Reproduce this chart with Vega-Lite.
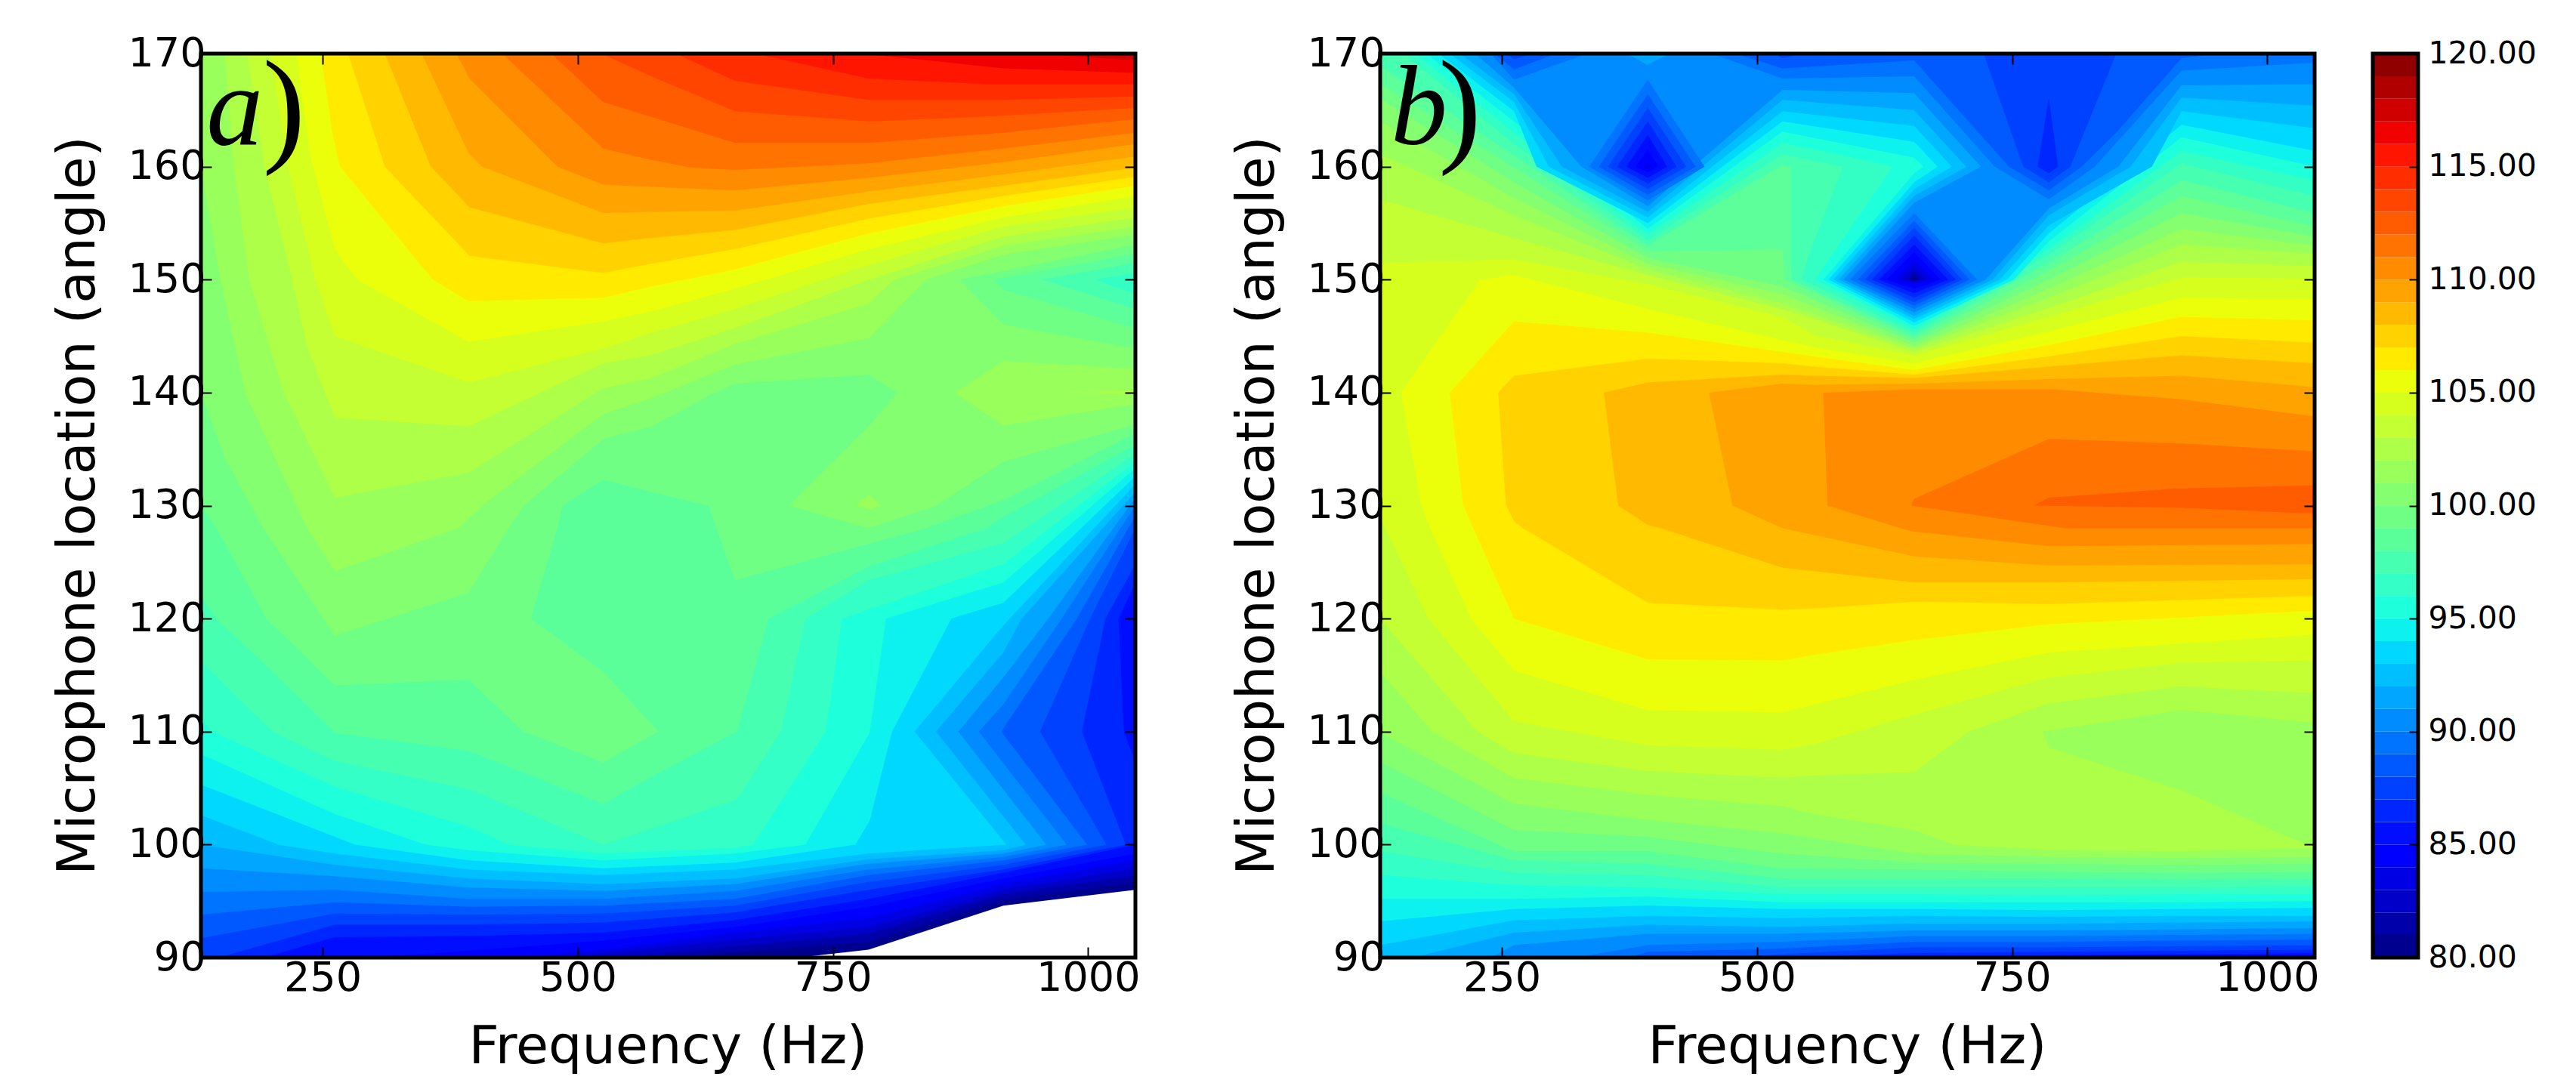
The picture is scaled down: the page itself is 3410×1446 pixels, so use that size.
{"$schema":"https://vega.github.io/schema/vega-lite/v6.json","autosize":{"type":"pad"},"padding":{"left":68,"top":44,"right":5,"bottom":5},"background":"white","bounds":"flush","spacing":77,"config":{"view":{"stroke":null},"axis":{"grid":false,"domain":false,"labelFont":"DejaVu Sans","titleFont":"DejaVu Sans","labelColor":"black","titleColor":"black","tickColor":"black","titleFontWeight":"normal","labelFlush":false,"labelOverlap":false}},
"datasets":{"pa":[
{"v":100.5,"f":130.8,"a":90},{"v":100.5,"f":1046.4,"a":90},{"v":100.5,"f":1046.4,"a":170},{"v":100.5,"f":130.8,"a":170},
{"v":99.5,"f":130.8,"a":140},{"v":99.5,"f":154,"a":134.2},{"v":99.5,"f":192,"a":128},{"v":99.5,"f":262,"a":118.5},{"v":99.5,"f":393,"a":122.3},{"v":99.5,"f":432,"a":128},{"v":99.5,"f":447,"a":130},{"v":99.5,"f":525,"a":135.9},{"v":99.5,"f":572,"a":137},{"v":99.5,"f":634,"a":140},{"v":99.5,"f":654,"a":140.8},{"v":99.5,"f":785,"a":141.6},{"v":99.5,"f":813,"a":140},{"v":99.5,"f":785,"a":137},{"v":99.5,"f":707,"a":130},{"v":99.5,"f":785,"a":128},{"v":99.5,"f":851,"a":130},{"v":99.5,"f":917,"a":133.9},{"v":99.5,"f":1046.4,"a":137.2},{"v":99.5,"f":1046.4,"a":90},{"v":99.5,"f":130.8,"a":90},
{"v":98.5,"f":130.8,"a":130},{"v":98.5,"f":146,"a":128},{"v":98.5,"f":195,"a":120},{"v":98.5,"f":262,"a":114.1},{"v":98.5,"f":393,"a":114.6},{"v":98.5,"f":447,"a":110},{"v":98.5,"f":525,"a":107.3},{"v":98.5,"f":579,"a":110},{"v":98.5,"f":525,"a":115.3},{"v":98.5,"f":454,"a":120},{"v":98.5,"f":480,"a":128},{"v":98.5,"f":485,"a":130},{"v":98.5,"f":525,"a":132.3},{"v":98.5,"f":572,"a":131.2},{"v":98.5,"f":628,"a":130},{"v":98.5,"f":636,"a":128},{"v":98.5,"f":654,"a":123.4},{"v":98.5,"f":841,"a":128},{"v":98.5,"f":917,"a":130.5},{"v":98.5,"f":1046.4,"a":136.4},{"v":98.5,"f":1046.4,"a":90},{"v":98.5,"f":130.8,"a":90},
{"v":97.5,"f":130.8,"a":122},{"v":97.5,"f":146,"a":120},{"v":97.5,"f":201,"a":115.3},{"v":97.5,"f":262,"a":109.9},{"v":97.5,"f":393,"a":108.3},{"v":97.5,"f":525,"a":103.6},{"v":97.5,"f":572,"a":106},{"v":97.5,"f":656,"a":110},{"v":97.5,"f":687,"a":120},{"v":97.5,"f":785,"a":124.6},{"v":97.5,"f":900,"a":128},{"v":97.5,"f":917,"a":129},{"v":97.5,"f":1046.4,"a":135.4},{"v":97.5,"f":1046.4,"a":90},{"v":97.5,"f":130.8,"a":90},
{"v":96.5,"f":130.8,"a":116.2},{"v":96.5,"f":201,"a":110},{"v":96.5,"f":262,"a":107.4},{"v":96.5,"f":393,"a":104.9},{"v":96.5,"f":525,"a":100},{"v":96.5,"f":572,"a":101.4},{"v":96.5,"f":656,"a":104},{"v":96.5,"f":699,"a":110},{"v":96.5,"f":723,"a":120},{"v":96.5,"f":785,"a":123.4},{"v":96.5,"f":917,"a":126.7},{"v":96.5,"f":1046.4,"a":134.6},{"v":96.5,"f":1046.4,"a":90},{"v":96.5,"f":130.8,"a":90},
{"v":95.5,"f":130.8,"a":111},{"v":95.5,"f":142,"a":110},{"v":95.5,"f":262,"a":105.1},{"v":95.5,"f":393,"a":101.6},{"v":95.5,"f":432,"a":100},{"v":95.5,"f":525,"a":99.2},{"v":95.5,"f":654,"a":99.7},{"v":95.5,"f":672,"a":100},{"v":95.5,"f":743,"a":110},{"v":95.5,"f":759,"a":120},{"v":95.5,"f":917,"a":124.8},{"v":95.5,"f":1046.4,"a":133.9},{"v":95.5,"f":1046.4,"a":90},{"v":95.5,"f":130.8,"a":90},
{"v":94.5,"f":130.8,"a":108},{"v":94.5,"f":262,"a":102.7},{"v":94.5,"f":351,"a":100},{"v":94.5,"f":393,"a":99.5},{"v":94.5,"f":525,"a":98.6},{"v":94.5,"f":654,"a":99.2},{"v":94.5,"f":723,"a":100},{"v":94.5,"f":786,"a":109.9},{"v":94.5,"f":802,"a":120},{"v":94.5,"f":917,"a":123.2},{"v":94.5,"f":1046.4,"a":133.3},{"v":94.5,"f":1046.4,"a":90},{"v":94.5,"f":130.8,"a":90},
{"v":93.5,"f":130.8,"a":105.3},{"v":93.5,"f":262,"a":100.7},{"v":93.5,"f":282,"a":100},{"v":93.5,"f":393,"a":98.6},{"v":93.5,"f":525,"a":97.9},{"v":93.5,"f":654,"a":98.4},{"v":93.5,"f":772,"a":100},{"v":93.5,"f":786,"a":102.1},{"v":93.5,"f":808,"a":110},{"v":93.5,"f":866,"a":120},{"v":93.5,"f":917,"a":121.4},{"v":93.5,"f":1046.4,"a":132.6},{"v":93.5,"f":1046.4,"a":90},{"v":93.5,"f":130.8,"a":90},
{"v":92.5,"f":130.8,"a":102.6},{"v":92.5,"f":207,"a":100},{"v":92.5,"f":262,"a":99.2},{"v":92.5,"f":393,"a":97.8},{"v":92.5,"f":525,"a":97.3},{"v":92.5,"f":654,"a":97.8},{"v":92.5,"f":785,"a":99.2},{"v":92.5,"f":920,"a":100},{"v":92.5,"f":830,"a":110},{"v":92.5,"f":917,"a":119.4},{"v":92.5,"f":1046.4,"a":131.9},{"v":92.5,"f":1046.4,"a":90},{"v":92.5,"f":130.8,"a":90},
{"v":91.5,"f":130.8,"a":100},{"v":91.5,"f":262,"a":98.2},{"v":91.5,"f":393,"a":97},{"v":91.5,"f":525,"a":96.5},{"v":91.5,"f":654,"a":97},{"v":91.5,"f":785,"a":98.7},{"v":91.5,"f":917,"a":99.5},{"v":91.5,"f":939,"a":100},{"v":91.5,"f":851,"a":110},{"v":91.5,"f":917,"a":117},{"v":91.5,"f":935,"a":120},{"v":91.5,"f":1046.4,"a":131.2},{"v":91.5,"f":1046.4,"a":90},{"v":91.5,"f":130.8,"a":90},
{"v":90.5,"f":130.8,"a":97.9},{"v":90.5,"f":262,"a":97.2},{"v":90.5,"f":393,"a":96.2},{"v":90.5,"f":525,"a":95.9},{"v":90.5,"f":654,"a":96.5},{"v":90.5,"f":785,"a":98.3},{"v":90.5,"f":917,"a":99.2},{"v":90.5,"f":959,"a":100},{"v":90.5,"f":873,"a":110},{"v":90.5,"f":917,"a":114.8},{"v":90.5,"f":961,"a":120},{"v":90.5,"f":1046.4,"a":130.7},{"v":90.5,"f":1046.4,"a":90},{"v":90.5,"f":130.8,"a":90},
{"v":89.5,"f":130.8,"a":95.8},{"v":89.5,"f":262,"a":96},{"v":89.5,"f":393,"a":95.2},{"v":89.5,"f":525,"a":95.2},{"v":89.5,"f":654,"a":95.9},{"v":89.5,"f":785,"a":97.8},{"v":89.5,"f":917,"a":98.9},{"v":89.5,"f":979,"a":100},{"v":89.5,"f":893,"a":110},{"v":89.5,"f":917,"a":112.4},{"v":89.5,"f":974,"a":120},{"v":89.5,"f":1046.4,"a":130},{"v":89.5,"f":1046.4,"a":90},{"v":89.5,"f":130.8,"a":90},
{"v":88.5,"f":130.8,"a":93.8},{"v":88.5,"f":262,"a":94.9},{"v":88.5,"f":393,"a":94.5},{"v":88.5,"f":525,"a":94.6},{"v":88.5,"f":654,"a":95.2},{"v":88.5,"f":785,"a":97.3},{"v":88.5,"f":917,"a":98.6},{"v":88.5,"f":999,"a":100},{"v":88.5,"f":915,"a":110},{"v":88.5,"f":989,"a":120},{"v":88.5,"f":1046.4,"a":129.1},{"v":88.5,"f":1046.4,"a":90},{"v":88.5,"f":130.8,"a":90},
{"v":87.5,"f":130.8,"a":91.7},{"v":87.5,"f":262,"a":93.9},{"v":87.5,"f":393,"a":93.8},{"v":87.5,"f":525,"a":93.9},{"v":87.5,"f":654,"a":94.6},{"v":87.5,"f":785,"a":96.7},{"v":87.5,"f":917,"a":98.2},{"v":87.5,"f":1018,"a":100},{"v":87.5,"f":953,"a":110},{"v":87.5,"f":1002,"a":120},{"v":87.5,"f":1046.4,"a":128},{"v":87.5,"f":1046.4,"a":90},{"v":87.5,"f":130.8,"a":90},
{"v":86.5,"f":148,"a":90},{"v":86.5,"f":262,"a":92.9},{"v":86.5,"f":393,"a":92.9},{"v":86.5,"f":525,"a":93.1},{"v":86.5,"f":654,"a":94},{"v":86.5,"f":785,"a":96},{"v":86.5,"f":917,"a":97.8},{"v":86.5,"f":1037,"a":100},{"v":86.5,"f":994,"a":110},{"v":86.5,"f":1017,"a":120},{"v":86.5,"f":1046.4,"a":124.8},{"v":86.5,"f":1046.4,"a":90},
{"v":85.5,"f":192,"a":90},{"v":85.5,"f":262,"a":91.8},{"v":85.5,"f":393,"a":91.9},{"v":85.5,"f":525,"a":92.2},{"v":85.5,"f":654,"a":93.3},{"v":85.5,"f":785,"a":95.2},{"v":85.5,"f":917,"a":97.5},{"v":85.5,"f":1046.4,"a":100},{"v":85.5,"f":1046.4,"a":90},
{"v":85.51,"f":1046.4,"a":107.3},{"v":85.51,"f":1035,"a":110},{"v":85.51,"f":1030,"a":120},{"v":85.51,"f":1046.4,"a":123.2},
{"v":84.5,"f":300,"a":90},{"v":84.5,"f":393,"a":90.6},{"v":84.5,"f":525,"a":91.5},{"v":84.5,"f":654,"a":92.7},{"v":84.5,"f":785,"a":94.5},{"v":84.5,"f":917,"a":97},{"v":84.5,"f":1046.4,"a":99.2},{"v":84.5,"f":1046.4,"a":90},
{"v":83.5,"f":440,"a":90},{"v":83.5,"f":525,"a":90.7},{"v":83.5,"f":654,"a":92.2},{"v":83.5,"f":785,"a":93.5},{"v":83.5,"f":917,"a":96.5},{"v":83.5,"f":1046.4,"a":98.6},{"v":83.5,"f":1046.4,"a":90},
{"v":82.5,"f":490,"a":90},{"v":82.5,"f":654,"a":91.6},{"v":82.5,"f":785,"a":92.7},{"v":82.5,"f":917,"a":96},{"v":82.5,"f":1046.4,"a":97.9},{"v":82.5,"f":1046.4,"a":90},
{"v":81.5,"f":540,"a":90},{"v":81.5,"f":654,"a":91},{"v":81.5,"f":785,"a":92.1},{"v":81.5,"f":917,"a":95.6},{"v":81.5,"f":1046.4,"a":97.3},{"v":81.5,"f":1046.4,"a":90},
{"v":80.5,"f":600,"a":90},{"v":80.5,"f":654,"a":90.5},{"v":80.5,"f":785,"a":91.4},{"v":80.5,"f":917,"a":95.1},{"v":80.5,"f":1046.4,"a":96.7},{"v":80.5,"f":1046.4,"a":90},
{"v":79,"f":716,"a":90},{"v":79,"f":785,"a":90.7},{"v":79,"f":917,"a":94.6},{"v":79,"f":1046.4,"a":96},{"v":79,"f":1046.4,"a":90},
{"v":99.51,"f":874,"a":150},{"v":99.51,"f":1046.4,"a":153.1},{"v":99.51,"f":1046.4,"a":143.9},{"v":99.51,"f":917,"a":146},
{"v":98.51,"f":907,"a":150},{"v":98.51,"f":1046.4,"a":152.3},{"v":98.51,"f":1046.4,"a":145.7},{"v":98.51,"f":917,"a":149.1},
{"v":97.51,"f":955,"a":150},{"v":97.51,"f":1046.4,"a":151.5},{"v":97.51,"f":1046.4,"a":147.4},
{"v":96.51,"f":1007,"a":150},{"v":96.51,"f":1046.4,"a":150.6},{"v":96.51,"f":1046.4,"a":148.7},
{"v":101.51,"f":869,"a":140},{"v":101.51,"f":917,"a":142.8},{"v":101.51,"f":1046.4,"a":142.1},{"v":101.51,"f":1046.4,"a":139},{"v":101.51,"f":917,"a":137.1},
{"v":102.51,"f":974,"a":140},{"v":102.51,"f":1046.4,"a":140.2},{"v":102.51,"f":1046.4,"a":139.9},
{"v":101.52,"f":772,"a":130},{"v":101.52,"f":785,"a":131},{"v":101.52,"f":797,"a":130},{"v":101.52,"f":785,"a":129.7},
{"v":101.5,"f":130.8,"a":160},{"v":101.5,"f":150,"a":150},{"v":101.5,"f":174,"a":140},{"v":101.5,"f":235,"a":128},{"v":101.5,"f":262,"a":124.2},{"v":101.5,"f":383,"a":128},{"v":101.5,"f":406,"a":130},{"v":101.5,"f":525,"a":138.1},{"v":101.5,"f":572,"a":139.5},{"v":101.5,"f":654,"a":142.5},{"v":101.5,"f":785,"a":144.8},{"v":101.5,"f":841,"a":150},{"v":101.5,"f":917,"a":152.2},{"v":101.5,"f":1046.4,"a":154},{"v":101.5,"f":1046.4,"a":170},{"v":101.5,"f":130.8,"a":170},
{"v":102.5,"f":154,"a":170},{"v":102.5,"f":163,"a":160},{"v":102.5,"f":178,"a":150},{"v":102.5,"f":212,"a":140},{"v":102.5,"f":262,"a":130.7},{"v":102.5,"f":393,"a":132.9},{"v":102.5,"f":525,"a":140.4},{"v":102.5,"f":572,"a":141.3},{"v":102.5,"f":654,"a":144.3},{"v":102.5,"f":785,"a":147.9},{"v":102.5,"f":810,"a":150},{"v":102.5,"f":917,"a":153},{"v":102.5,"f":1046.4,"a":154.7},{"v":102.5,"f":1046.4,"a":170},
{"v":103.5,"f":176,"a":170},{"v":103.5,"f":193,"a":160},{"v":103.5,"f":220,"a":150},{"v":103.5,"f":235,"a":144},{"v":103.5,"f":262,"a":137.8},{"v":103.5,"f":393,"a":137},{"v":103.5,"f":525,"a":142.6},{"v":103.5,"f":572,"a":143.3},{"v":103.5,"f":654,"a":145.7},{"v":103.5,"f":785,"a":150},{"v":103.5,"f":917,"a":153.8},{"v":103.5,"f":1046.4,"a":155.5},{"v":103.5,"f":1046.4,"a":170},
{"v":104.5,"f":199,"a":170},{"v":104.5,"f":216,"a":160},{"v":104.5,"f":243,"a":150},{"v":104.5,"f":262,"a":145},{"v":104.5,"f":393,"a":140.9},{"v":104.5,"f":525,"a":143.9},{"v":104.5,"f":572,"a":145.3},{"v":104.5,"f":654,"a":147.4},{"v":104.5,"f":785,"a":151.3},{"v":104.5,"f":917,"a":154.7},{"v":104.5,"f":1046.4,"a":156.4},{"v":104.5,"f":1046.4,"a":170},
{"v":105.5,"f":224,"a":170},{"v":105.5,"f":238,"a":160.9},{"v":105.5,"f":262,"a":152.7},{"v":105.5,"f":284,"a":150},{"v":105.5,"f":393,"a":144.5},{"v":105.5,"f":525,"a":146.3},{"v":105.5,"f":572,"a":147.2},{"v":105.5,"f":654,"a":149.2},{"v":105.5,"f":785,"a":152.7},{"v":105.5,"f":917,"a":155.5},{"v":105.5,"f":1046.4,"a":157.4},{"v":105.5,"f":1046.4,"a":170},
{"v":106.5,"f":248,"a":170},{"v":106.5,"f":260,"a":162.8},{"v":106.5,"f":267,"a":160},{"v":106.5,"f":358,"a":150},{"v":106.5,"f":393,"a":148.1},{"v":106.5,"f":525,"a":148.4},{"v":106.5,"f":572,"a":149.4},{"v":106.5,"f":654,"a":150.9},{"v":106.5,"f":785,"a":154.1},{"v":106.5,"f":917,"a":156.5},{"v":106.5,"f":1046.4,"a":158.3},{"v":106.5,"f":1046.4,"a":170},
{"v":107.5,"f":275,"a":170},{"v":107.5,"f":311,"a":160},{"v":107.5,"f":394,"a":152.1},{"v":107.5,"f":525,"a":150.6},{"v":107.5,"f":572,"a":151.4},{"v":107.5,"f":654,"a":152.7},{"v":107.5,"f":785,"a":155.4},{"v":107.5,"f":917,"a":157.4},{"v":107.5,"f":1046.4,"a":159.1},{"v":107.5,"f":1046.4,"a":170},
{"v":108.5,"f":311,"a":170},{"v":108.5,"f":356,"a":160},{"v":108.5,"f":394,"a":156.4},{"v":108.5,"f":525,"a":153.2},{"v":108.5,"f":572,"a":153.7},{"v":108.5,"f":654,"a":154.4},{"v":108.5,"f":785,"a":156.7},{"v":108.5,"f":917,"a":158.3},{"v":108.5,"f":1046.4,"a":159.9},{"v":108.5,"f":1046.4,"a":170},
{"v":109.5,"f":347,"a":170},{"v":109.5,"f":393,"a":161.2},{"v":109.5,"f":406,"a":160},{"v":109.5,"f":525,"a":155.9},{"v":109.5,"f":572,"a":156},{"v":109.5,"f":654,"a":156.1},{"v":109.5,"f":785,"a":157.8},{"v":109.5,"f":917,"a":159.3},{"v":109.5,"f":1046.4,"a":160.9},{"v":109.5,"f":1046.4,"a":170},
{"v":110.5,"f":381,"a":170},{"v":110.5,"f":394,"a":167.8},{"v":110.5,"f":480,"a":160},{"v":110.5,"f":525,"a":158.4},{"v":110.5,"f":572,"a":158.2},{"v":110.5,"f":654,"a":157.9},{"v":110.5,"f":785,"a":159},{"v":110.5,"f":917,"a":160.4},{"v":110.5,"f":1046.4,"a":162},{"v":110.5,"f":1046.4,"a":170},
{"v":111.5,"f":426,"a":170},{"v":111.5,"f":525,"a":161.6},{"v":111.5,"f":572,"a":160.6},{"v":111.5,"f":611,"a":159.9},{"v":111.5,"f":654,"a":159.7},{"v":111.5,"f":785,"a":160.3},{"v":111.5,"f":917,"a":161.6},{"v":111.5,"f":1046.4,"a":163},{"v":111.5,"f":1046.4,"a":170},
{"v":112.5,"f":474,"a":170},{"v":112.5,"f":525,"a":165.7},{"v":112.5,"f":572,"a":164.4},{"v":112.5,"f":654,"a":162.1},{"v":112.5,"f":785,"a":162.1},{"v":112.5,"f":917,"a":163},{"v":112.5,"f":1046.4,"a":164.2},{"v":112.5,"f":1046.4,"a":170},
{"v":113.5,"f":523,"a":170},{"v":113.5,"f":572,"a":168},{"v":113.5,"f":654,"a":164.9},{"v":113.5,"f":785,"a":164},{"v":113.5,"f":917,"a":164.5},{"v":113.5,"f":1046.4,"a":165.2},{"v":113.5,"f":1046.4,"a":170},
{"v":114.5,"f":596,"a":170},{"v":114.5,"f":654,"a":167.6},{"v":114.5,"f":785,"a":165.9},{"v":114.5,"f":917,"a":165.9},{"v":114.5,"f":1046.4,"a":166.2},{"v":114.5,"f":1046.4,"a":170},
{"v":115.5,"f":674,"a":170},{"v":115.5,"f":785,"a":167.8},{"v":115.5,"f":900,"a":167.3},{"v":115.5,"f":1046.4,"a":167.3},{"v":115.5,"f":1046.4,"a":170},
{"v":116.5,"f":779,"a":170},{"v":116.5,"f":917,"a":168.7},{"v":116.5,"f":1046.4,"a":168.3},{"v":116.5,"f":1046.4,"a":170},
{"v":117.5,"f":950,"a":170},{"v":117.5,"f":1046.4,"a":169.4},{"v":117.5,"f":1046.4,"a":170}
],"pb":[
{"v":103.5,"f":130.8,"a":90},{"v":103.5,"f":1046.4,"a":90},{"v":103.5,"f":1046.4,"a":170},{"v":103.5,"f":130.8,"a":170},
{"v":102.5,"f":130.8,"a":120},{"v":102.5,"f":226,"a":110},{"v":102.5,"f":262,"a":108.1},{"v":102.5,"f":393,"a":106.5},{"v":102.5,"f":525,"a":105.9},{"v":102.5,"f":556,"a":106.1},{"v":102.5,"f":654,"a":106.4},{"v":102.5,"f":707,"a":110},{"v":102.5,"f":786,"a":112.5},{"v":102.5,"f":916,"a":114},{"v":102.5,"f":1046.4,"a":113.4},{"v":102.5,"f":1046.4,"a":90},{"v":102.5,"f":130.8,"a":90},
{"v":101.5,"f":130.8,"a":115.3},{"v":101.5,"f":182,"a":110},{"v":101.5,"f":262,"a":105.9},{"v":101.5,"f":393,"a":104.4},{"v":101.5,"f":525,"a":103.4},{"v":101.5,"f":556,"a":102.7},{"v":101.5,"f":654,"a":101.3},{"v":101.5,"f":693,"a":100},{"v":101.5,"f":786,"a":99.5},{"v":101.5,"f":916,"a":99.4},{"v":101.5,"f":1046.4,"a":99.7},{"v":101.5,"f":1046.4,"a":90},{"v":101.5,"f":130.8,"a":90},
{"v":100.5,"f":130.8,"a":109.9},{"v":100.5,"f":262,"a":103.6},{"v":100.5,"f":393,"a":102.2},{"v":100.5,"f":525,"a":101},{"v":100.5,"f":654,"a":99.2},{"v":100.5,"f":786,"a":98.9},{"v":100.5,"f":916,"a":98.8},{"v":100.5,"f":1046.4,"a":98.9},{"v":100.5,"f":1046.4,"a":90},{"v":100.5,"f":130.8,"a":90},
{"v":99.5,"f":130.8,"a":107.3},{"v":99.5,"f":262,"a":101.3},{"v":99.5,"f":393,"a":100.7},{"v":99.5,"f":525,"a":99.2},{"v":99.5,"f":654,"a":98.4},{"v":99.5,"f":786,"a":98.3},{"v":99.5,"f":916,"a":98.2},{"v":99.5,"f":1046.4,"a":98.3},{"v":99.5,"f":1046.4,"a":90},{"v":99.5,"f":130.8,"a":90},
{"v":98.5,"f":130.8,"a":104.6},{"v":98.5,"f":262,"a":99.4},{"v":98.5,"f":393,"a":99.4},{"v":98.5,"f":525,"a":97.9},{"v":98.5,"f":654,"a":97.8},{"v":98.5,"f":786,"a":97.6},{"v":98.5,"f":916,"a":97.5},{"v":98.5,"f":1046.4,"a":97.6},{"v":98.5,"f":1046.4,"a":90},{"v":98.5,"f":130.8,"a":90},
{"v":97.5,"f":130.8,"a":101.9},{"v":97.5,"f":262,"a":98.6},{"v":97.5,"f":393,"a":98.3},{"v":97.5,"f":525,"a":97},{"v":97.5,"f":654,"a":97},{"v":97.5,"f":786,"a":97},{"v":97.5,"f":916,"a":96.9},{"v":97.5,"f":1046.4,"a":97},{"v":97.5,"f":1046.4,"a":90},{"v":97.5,"f":130.8,"a":90},
{"v":96.5,"f":130.8,"a":99.4},{"v":96.5,"f":262,"a":97.5},{"v":96.5,"f":393,"a":97.3},{"v":96.5,"f":525,"a":96.2},{"v":96.5,"f":654,"a":96.2},{"v":96.5,"f":786,"a":96.2},{"v":96.5,"f":916,"a":96.2},{"v":96.5,"f":1046.4,"a":96.3},{"v":96.5,"f":1046.4,"a":90},{"v":96.5,"f":130.8,"a":90},
{"v":95.5,"f":130.8,"a":97.3},{"v":95.5,"f":262,"a":96.4},{"v":95.5,"f":393,"a":96.2},{"v":95.5,"f":525,"a":95.6},{"v":95.5,"f":654,"a":95.6},{"v":95.5,"f":786,"a":95.5},{"v":95.5,"f":916,"a":95.6},{"v":95.5,"f":1046.4,"a":95.6},{"v":95.5,"f":1046.4,"a":90},{"v":95.5,"f":130.8,"a":90},
{"v":94.5,"f":130.8,"a":95.2},{"v":94.5,"f":262,"a":95.2},{"v":94.5,"f":393,"a":95.4},{"v":94.5,"f":525,"a":94.9},{"v":94.5,"f":654,"a":94.9},{"v":94.5,"f":786,"a":94.9},{"v":94.5,"f":916,"a":94.9},{"v":94.5,"f":1046.4,"a":95},{"v":94.5,"f":1046.4,"a":90},{"v":94.5,"f":130.8,"a":90},
{"v":93.5,"f":130.8,"a":93.2},{"v":93.5,"f":262,"a":94.3},{"v":93.5,"f":393,"a":94.6},{"v":93.5,"f":525,"a":94.3},{"v":93.5,"f":654,"a":94.3},{"v":93.5,"f":786,"a":94.2},{"v":93.5,"f":916,"a":94.3},{"v":93.5,"f":1046.4,"a":94.4},{"v":93.5,"f":1046.4,"a":90},{"v":93.5,"f":130.8,"a":90},
{"v":92.5,"f":130.8,"a":91.1},{"v":92.5,"f":262,"a":93.3},{"v":92.5,"f":393,"a":93.7},{"v":92.5,"f":525,"a":93.5},{"v":92.5,"f":654,"a":93.7},{"v":92.5,"f":786,"a":93.6},{"v":92.5,"f":916,"a":93.7},{"v":92.5,"f":1046.4,"a":93.7},{"v":92.5,"f":1046.4,"a":90},{"v":92.5,"f":130.8,"a":90},
{"v":91.5,"f":163,"a":90},{"v":91.5,"f":262,"a":92.2},{"v":91.5,"f":393,"a":92.9},{"v":91.5,"f":525,"a":92.7},{"v":91.5,"f":654,"a":93},{"v":91.5,"f":786,"a":93},{"v":91.5,"f":916,"a":93.1},{"v":91.5,"f":1046.4,"a":93.2},{"v":91.5,"f":1046.4,"a":90},
{"v":90.5,"f":239,"a":90},{"v":90.5,"f":262,"a":91.1},{"v":90.5,"f":393,"a":92.1},{"v":90.5,"f":525,"a":92.1},{"v":90.5,"f":654,"a":92.4},{"v":90.5,"f":786,"a":92.4},{"v":90.5,"f":916,"a":92.5},{"v":90.5,"f":1046.4,"a":92.6},{"v":90.5,"f":1046.4,"a":90},
{"v":89.5,"f":322,"a":90},{"v":89.5,"f":393,"a":91.1},{"v":89.5,"f":525,"a":91.4},{"v":89.5,"f":654,"a":91.9},{"v":89.5,"f":786,"a":91.9},{"v":89.5,"f":916,"a":92},{"v":89.5,"f":1046.4,"a":92.1},{"v":89.5,"f":1046.4,"a":90},
{"v":88.5,"f":375,"a":90},{"v":88.5,"f":393,"a":90.5},{"v":88.5,"f":525,"a":90.8},{"v":88.5,"f":654,"a":91.4},{"v":88.5,"f":786,"a":91.4},{"v":88.5,"f":916,"a":91.5},{"v":88.5,"f":1046.4,"a":91.6},{"v":88.5,"f":1046.4,"a":90},
{"v":87.5,"f":466,"a":90},{"v":87.5,"f":525,"a":90.3},{"v":87.5,"f":654,"a":90.9},{"v":87.5,"f":786,"a":90.9},{"v":87.5,"f":916,"a":91},{"v":87.5,"f":1046.4,"a":91.1},{"v":87.5,"f":1046.4,"a":90},
{"v":86.5,"f":525,"a":90},{"v":86.5,"f":654,"a":90.4},{"v":86.5,"f":786,"a":90.5},{"v":86.5,"f":916,"a":90.6},{"v":86.5,"f":1046.4,"a":90.7},{"v":86.5,"f":1046.4,"a":90},
{"v":85.5,"f":654,"a":90},{"v":85.5,"f":786,"a":90.2},{"v":85.5,"f":916,"a":90.3},{"v":85.5,"f":1046.4,"a":90.4},{"v":85.5,"f":1046.4,"a":90},
{"v":101.51,"f":780,"a":110},{"v":101.51,"f":786,"a":108.6},{"v":101.51,"f":916,"a":104.8},{"v":101.51,"f":1038,"a":100},{"v":101.51,"f":1046.4,"a":100},{"v":101.51,"f":1046.4,"a":110.8},{"v":101.51,"f":916,"a":111.9},
{"v":102.51,"f":130.8,"a":157.1},{"v":102.51,"f":262,"a":153.7},{"v":102.51,"f":393,"a":150.4},{"v":102.51,"f":525,"a":147.4},{"v":102.51,"f":654,"a":143.6},{"v":102.51,"f":786,"a":147.5},{"v":102.51,"f":916,"a":151.6},{"v":102.51,"f":1046.4,"a":151.2},{"v":102.51,"f":1046.4,"a":170},{"v":102.51,"f":130.8,"a":170},
{"v":101.52,"f":130.8,"a":161.1},{"v":101.52,"f":262,"a":155.7},{"v":101.52,"f":393,"a":150.9},{"v":101.52,"f":525,"a":147.9},{"v":101.52,"f":654,"a":143.9},{"v":101.52,"f":786,"a":148.4},{"v":101.52,"f":916,"a":153.1},{"v":101.52,"f":1046.4,"a":152.3},{"v":101.52,"f":1046.4,"a":170},{"v":101.52,"f":130.8,"a":170},
{"v":100.51,"f":130.8,"a":164},{"v":100.51,"f":262,"a":157.2},{"v":100.51,"f":393,"a":151.4},{"v":100.51,"f":525,"a":148.7},{"v":100.51,"f":654,"a":144.1},{"v":100.51,"f":786,"a":149.2},{"v":100.51,"f":916,"a":154.5},{"v":100.51,"f":1046.4,"a":153},{"v":100.51,"f":1046.4,"a":170},{"v":100.51,"f":130.8,"a":170},
{"v":99.51,"f":130.8,"a":166},{"v":99.51,"f":262,"a":158.6},{"v":99.51,"f":393,"a":151.9},{"v":99.51,"f":525,"a":149.4},{"v":99.51,"f":654,"a":144.4},{"v":99.51,"f":786,"a":150},{"v":99.51,"f":916,"a":155.9},{"v":99.51,"f":1046.4,"a":153.8},{"v":99.51,"f":1046.4,"a":170},{"v":99.51,"f":130.8,"a":170},
{"v":98.51,"f":130.8,"a":167.3},{"v":98.51,"f":262,"a":159.9},{"v":98.51,"f":393,"a":152.5},{"v":98.51,"f":525,"a":152.7},{"v":98.51,"f":527,"a":150},{"v":98.51,"f":654,"a":144.7},{"v":98.51,"f":786,"a":150.8},{"v":98.51,"f":916,"a":157.4},{"v":98.51,"f":1046.4,"a":154.7},{"v":98.51,"f":1046.4,"a":170},{"v":98.51,"f":130.8,"a":170},
{"v":97.51,"f":130.8,"a":168.9},{"v":97.51,"f":262,"a":161},{"v":97.51,"f":393,"a":153},{"v":97.51,"f":525,"a":160.2},{"v":97.51,"f":533,"a":160},{"v":97.51,"f":533,"a":152},{"v":97.51,"f":534,"a":150},{"v":97.51,"f":654,"a":145},{"v":97.51,"f":786,"a":151.5},{"v":97.51,"f":916,"a":158.8},{"v":97.51,"f":1046.4,"a":155.9},{"v":97.51,"f":1046.4,"a":170},{"v":97.51,"f":130.8,"a":170},
{"v":96.51,"f":154,"a":170},{"v":96.51,"f":262,"a":162},{"v":96.51,"f":393,"a":153.5},{"v":96.51,"f":525,"a":161.1},{"v":96.51,"f":584,"a":160},{"v":96.51,"f":550,"a":152},{"v":96.51,"f":544,"a":150},{"v":96.51,"f":654,"a":145.3},{"v":96.51,"f":786,"a":152.2},{"v":96.51,"f":916,"a":160.3},{"v":96.51,"f":1046.4,"a":157.4},{"v":96.51,"f":1046.4,"a":170},
{"v":95.51,"f":165,"a":170},{"v":95.51,"f":262,"a":163},{"v":95.51,"f":393,"a":154},{"v":95.51,"f":525,"a":162.1},{"v":95.51,"f":585,"a":161},{"v":95.51,"f":633,"a":160},{"v":95.51,"f":557,"a":150},{"v":95.51,"f":654,"a":145.6},{"v":95.51,"f":786,"a":152.7},{"v":95.51,"f":916,"a":161.4},{"v":95.51,"f":1046.4,"a":158.8},{"v":95.51,"f":1046.4,"a":170},
{"v":94.51,"f":176,"a":170},{"v":94.51,"f":262,"a":164},{"v":94.51,"f":393,"a":154.5},{"v":94.51,"f":525,"a":163.1},{"v":94.51,"f":654,"a":160.8},{"v":94.51,"f":663,"a":160},{"v":94.51,"f":654,"a":159.4},{"v":94.51,"f":565,"a":150},{"v":94.51,"f":654,"a":145.9},{"v":94.51,"f":752,"a":150},{"v":94.51,"f":786,"a":153.4},{"v":94.51,"f":916,"a":162.6},{"v":94.51,"f":1046.4,"a":160},{"v":94.51,"f":1046.4,"a":170},
{"v":93.51,"f":188,"a":170},{"v":93.51,"f":262,"a":164.9},{"v":93.51,"f":284,"a":160},{"v":93.51,"f":393,"a":155},{"v":93.51,"f":525,"a":164},{"v":93.51,"f":654,"a":162.2},{"v":93.51,"f":677,"a":160},{"v":93.51,"f":654,"a":158.6},{"v":93.51,"f":570,"a":150},{"v":93.51,"f":654,"a":146.2},{"v":93.51,"f":745,"a":150},{"v":93.51,"f":786,"a":154.1},{"v":93.51,"f":916,"a":163.7},{"v":93.51,"f":1046.4,"a":161.4},{"v":93.51,"f":1046.4,"a":170},
{"v":92.51,"f":199,"a":170},{"v":92.51,"f":262,"a":165.7},{"v":92.51,"f":296,"a":160},{"v":92.51,"f":393,"a":155.5},{"v":92.51,"f":525,"a":164.9},{"v":92.51,"f":654,"a":163.6},{"v":92.51,"f":691,"a":160},{"v":92.51,"f":654,"a":158},{"v":92.51,"f":575,"a":150},{"v":92.51,"f":654,"a":146.5},{"v":92.51,"f":738,"a":150},{"v":92.51,"f":786,"a":154.8},{"v":92.51,"f":887,"a":160},{"v":92.51,"f":916,"a":164.9},{"v":92.51,"f":1046.4,"a":163.4},{"v":92.51,"f":1046.4,"a":170},
{"v":91.51,"f":209,"a":170},{"v":91.51,"f":262,"a":166.4},{"v":91.51,"f":309,"a":160},{"v":91.51,"f":393,"a":156},{"v":91.51,"f":525,"a":165.9},{"v":91.51,"f":654,"a":165},{"v":91.51,"f":705,"a":160},{"v":91.51,"f":654,"a":157.4},{"v":91.51,"f":580,"a":150},{"v":91.51,"f":654,"a":146.8},{"v":91.51,"f":731,"a":150},{"v":91.51,"f":786,"a":155.7},{"v":91.51,"f":866,"a":160},{"v":91.51,"f":916,"a":166.1},{"v":91.51,"f":1046.4,"a":165.4},{"v":91.51,"f":1046.4,"a":170},
{"v":90.51,"f":224,"a":170},{"v":90.51,"f":262,"a":167},{"v":90.51,"f":328,"a":160},{"v":90.51,"f":393,"a":156.5},{"v":90.51,"f":525,"a":166.8},{"v":90.51,"f":654,"a":166.5},{"v":90.51,"f":719.5,"a":160},{"v":90.51,"f":654,"a":156.8},{"v":90.51,"f":585,"a":150},{"v":90.51,"f":654,"a":147.1},{"v":90.51,"f":724,"a":150},{"v":90.51,"f":786,"a":156.3},{"v":90.51,"f":854,"a":160},{"v":90.51,"f":916,"a":167.2},{"v":90.51,"f":1046.4,"a":167.3},{"v":90.51,"f":1046.4,"a":170},
{"v":91.52,"f":373,"a":170},{"v":91.52,"f":392.4,"a":169},{"v":91.52,"f":415,"a":170},
{"v":89.51,"f":239,"a":170},{"v":89.51,"f":262,"a":167.7},{"v":89.51,"f":334,"a":170},
{"v":89.52,"f":455,"a":170},{"v":89.52,"f":525,"a":167.8},{"v":89.52,"f":654,"a":168},{"v":89.52,"f":733,"a":160},{"v":89.52,"f":786,"a":157.1},{"v":89.52,"f":831,"a":160},{"v":89.52,"f":916,"a":168.5},{"v":89.52,"f":1046.4,"a":169.2},{"v":89.52,"f":1046.4,"a":170},
{"v":88.51,"f":243,"a":170},{"v":88.51,"f":262,"a":168.6},{"v":88.51,"f":303,"a":170},
{"v":88.52,"f":479,"a":170},{"v":88.52,"f":525,"a":168.7},{"v":88.52,"f":654,"a":169.4},{"v":88.52,"f":747,"a":160},{"v":88.52,"f":786,"a":157.9},{"v":88.52,"f":818,"a":160},{"v":88.52,"f":852,"a":163},{"v":88.52,"f":916,"a":169.6},{"v":88.52,"f":952,"a":170},
{"v":87.51,"f":255,"a":170},{"v":87.51,"f":262,"a":169.5},{"v":87.51,"f":280,"a":170},
{"v":87.52,"f":517,"a":170},{"v":87.52,"f":525,"a":169.6},{"v":87.52,"f":546,"a":170},
{"v":87.53,"f":722,"a":170},{"v":87.53,"f":761,"a":160},{"v":87.53,"f":786,"a":158.6},{"v":87.53,"f":807,"a":160},{"v":87.53,"f":852,"a":170},
{"v":86.51,"f":786,"a":166.1},{"v":86.51,"f":775,"a":160},{"v":86.51,"f":786,"a":159.4},{"v":86.51,"f":795,"a":160},
{"v":89.53,"f":393,"a":167.7},{"v":89.53,"f":448.7,"a":160},{"v":89.53,"f":393,"a":157},{"v":89.53,"f":335.6,"a":160},
{"v":88.53,"f":393,"a":166.4},{"v":88.53,"f":439.8,"a":160},{"v":88.53,"f":393,"a":157.5},{"v":88.53,"f":345,"a":160},
{"v":87.54,"f":393,"a":165.2},{"v":87.54,"f":430.7,"a":160},{"v":87.54,"f":393,"a":158},{"v":87.54,"f":354,"a":160},
{"v":86.52,"f":393,"a":164},{"v":86.52,"f":421.3,"a":160},{"v":86.52,"f":393,"a":158.5},{"v":86.52,"f":362.7,"a":160},
{"v":85.52,"f":393,"a":162.8},{"v":85.52,"f":412,"a":160},{"v":85.52,"f":393,"a":159},{"v":85.52,"f":372,"a":160},
{"v":84.52,"f":393,"a":161.5},{"v":84.52,"f":403.5,"a":160},{"v":84.52,"f":393,"a":159.5},{"v":84.52,"f":381.3,"a":160},
{"v":83.52,"f":393,"a":160.3},{"v":83.52,"f":397,"a":160},{"v":83.52,"f":393,"a":159.8},{"v":83.52,"f":389,"a":160},
{"v":89.54,"f":654,"a":155.9},{"v":89.54,"f":715.8,"a":150},{"v":89.54,"f":654,"a":147.4},{"v":89.54,"f":591,"a":150},
{"v":88.54,"f":654,"a":155.2},{"v":88.54,"f":708.4,"a":150},{"v":88.54,"f":654,"a":147.7},{"v":88.54,"f":598.6,"a":150},
{"v":87.55,"f":654,"a":154.6},{"v":87.55,"f":701,"a":150},{"v":87.55,"f":654,"a":148},{"v":87.55,"f":605.8,"a":150},
{"v":86.53,"f":654,"a":153.9},{"v":86.53,"f":694.8,"a":150},{"v":86.53,"f":654,"a":148.4},{"v":86.53,"f":612.5,"a":150},
{"v":85.53,"f":654,"a":153.1},{"v":85.53,"f":687.4,"a":150},{"v":85.53,"f":654,"a":148.8},{"v":85.53,"f":619.4,"a":150},
{"v":84.53,"f":654,"a":152.4},{"v":84.53,"f":680,"a":150},{"v":84.53,"f":654,"a":149.2},{"v":84.53,"f":626.8,"a":150},
{"v":83.53,"f":654,"a":151.7},{"v":83.53,"f":673.3,"a":150},{"v":83.53,"f":654,"a":149.6},{"v":83.53,"f":635.5,"a":150},
{"v":82.53,"f":654,"a":151},{"v":82.53,"f":665,"a":150},{"v":82.53,"f":654,"a":149.8},{"v":82.53,"f":642.9,"a":150},
{"v":81.53,"f":654,"a":150.6},{"v":81.53,"f":660,"a":150},{"v":81.53,"f":654,"a":149.9},{"v":81.53,"f":648,"a":150},
{"v":80.53,"f":654,"a":150.3},{"v":80.53,"f":657,"a":150},{"v":80.53,"f":654,"a":149.95},{"v":80.53,"f":651,"a":150},
{"v":104.5,"f":130.8,"a":129},{"v":104.5,"f":178,"a":120},{"v":104.5,"f":262,"a":110.9},{"v":104.5,"f":393,"a":108.8},{"v":104.5,"f":525,"a":108.4},{"v":104.5,"f":556,"a":108.9},{"v":104.5,"f":654,"a":111.5},{"v":104.5,"f":786,"a":114.8},{"v":104.5,"f":916,"a":116.1},{"v":104.5,"f":1046.4,"a":116.3},{"v":104.5,"f":1046.4,"a":150.1},{"v":104.5,"f":916,"a":150.2},{"v":104.5,"f":786,"a":146.7},{"v":104.5,"f":654,"a":143.3},{"v":104.5,"f":556,"a":145.1},{"v":104.5,"f":525,"a":146.7},{"v":104.5,"f":393,"a":149.6},{"v":104.5,"f":262,"a":151.8},{"v":104.5,"f":130.8,"a":151.5},
{"v":105.5,"f":151,"a":140},{"v":105.5,"f":171,"a":130.1},{"v":105.5,"f":180,"a":128},{"v":105.5,"f":220,"a":120},{"v":105.5,"f":262,"a":115.4},{"v":105.5,"f":393,"a":111.9},{"v":105.5,"f":525,"a":111.7},{"v":105.5,"f":556,"a":112.4},{"v":105.5,"f":654,"a":114.6},{"v":105.5,"f":786,"a":117},{"v":105.5,"f":1046.4,"a":118.6},{"v":105.5,"f":1046.4,"a":148.3},{"v":105.5,"f":916,"a":148.4},{"v":105.5,"f":786,"a":145.4},{"v":105.5,"f":654,"a":142.6},{"v":105.5,"f":556,"a":144},{"v":105.5,"f":393,"a":147.4},{"v":105.5,"f":262,"a":150.4},{"v":105.5,"f":229,"a":150},
{"v":106.5,"f":199,"a":140},{"v":106.5,"f":212,"a":130.1},{"v":106.5,"f":222,"a":128},{"v":106.5,"f":262,"a":120},{"v":106.5,"f":393,"a":116.4},{"v":106.5,"f":525,"a":116.3},{"v":106.5,"f":556,"a":116.8},{"v":106.5,"f":654,"a":118.1},{"v":106.5,"f":786,"a":119.5},{"v":106.5,"f":1046.4,"a":120.7},{"v":106.5,"f":1046.4,"a":146.4},{"v":106.5,"f":916,"a":146.7},{"v":106.5,"f":786,"a":144.2},{"v":106.5,"f":654,"a":142},{"v":106.5,"f":556,"a":143.2},{"v":106.5,"f":393,"a":145.3},{"v":106.5,"f":262,"a":146.3},
{"v":107.5,"f":246.4,"a":140},{"v":107.5,"f":254,"a":130.1},{"v":107.5,"f":262,"a":128.6},{"v":107.5,"f":271,"a":128},{"v":107.5,"f":393,"a":121.4},{"v":107.5,"f":525,"a":120.8},{"v":107.5,"f":556,"a":120.9},{"v":107.5,"f":654,"a":121.5},{"v":107.5,"f":786,"a":121.3},{"v":107.5,"f":1046.4,"a":122},{"v":107.5,"f":1046.4,"a":144.4},{"v":107.5,"f":916,"a":145},{"v":107.5,"f":786,"a":143.2},{"v":107.5,"f":654,"a":141.6},{"v":107.5,"f":556,"a":142.3},{"v":107.5,"f":525,"a":142.6},{"v":107.5,"f":393,"a":143},{"v":107.5,"f":262,"a":141.5},
{"v":108.5,"f":350,"a":140},{"v":108.5,"f":364,"a":130},{"v":108.5,"f":393,"a":128.3},{"v":108.5,"f":406,"a":128},{"v":108.5,"f":525,"a":124.5},{"v":108.5,"f":556,"a":124.2},{"v":108.5,"f":654,"a":123.2},{"v":108.5,"f":786,"a":123.2},{"v":108.5,"f":1046.4,"a":123.5},{"v":108.5,"f":1046.4,"a":142.6},{"v":108.5,"f":916,"a":143.3},{"v":108.5,"f":786,"a":142.3},{"v":108.5,"f":654,"a":141.3},{"v":108.5,"f":556,"a":141.5},{"v":108.5,"f":525,"a":141.6},{"v":108.5,"f":393,"a":140.9},
{"v":109.5,"f":453,"a":140},{"v":109.5,"f":476,"a":130},{"v":109.5,"f":525,"a":128},{"v":109.5,"f":556,"a":127.4},{"v":109.5,"f":654,"a":125.5},{"v":109.5,"f":786,"a":124.7},{"v":109.5,"f":1046.4,"a":124.8},{"v":109.5,"f":1046.4,"a":140.5},{"v":109.5,"f":916,"a":141.5},{"v":109.5,"f":786,"a":141.2},{"v":109.5,"f":654,"a":140.8},{"v":109.5,"f":556,"a":140.7},{"v":109.5,"f":525,"a":140.8},
{"v":110.5,"f":565,"a":140},{"v":110.5,"f":569,"a":130},{"v":110.5,"f":641,"a":128},{"v":110.5,"f":654,"a":127.7},{"v":110.5,"f":786,"a":126.4},{"v":110.5,"f":1046.4,"a":126.6},{"v":110.5,"f":1046.4,"a":137.9},{"v":110.5,"f":916,"a":139.4},{"v":110.5,"f":790,"a":140.3},{"v":110.5,"f":654,"a":140.3},
{"v":111.5,"f":651,"a":130},{"v":111.5,"f":654,"a":130.6},{"v":111.5,"f":786,"a":135.9},{"v":111.5,"f":916,"a":135.5},{"v":111.5,"f":1046.4,"a":134.8},{"v":111.5,"f":1046.4,"a":128},{"v":111.5,"f":916,"a":128},{"v":111.5,"f":802,"a":128},
{"v":112.5,"f":771,"a":130},{"v":112.5,"f":786,"a":130.7},{"v":112.5,"f":909,"a":131.5},{"v":112.5,"f":1046.4,"a":131.8},{"v":112.5,"f":1046.4,"a":129.3},{"v":112.5,"f":916,"a":129.8}
],"bar":[{"lo":80,"hi":81,"v":80.5},{"lo":81,"hi":82,"v":81.5},{"lo":82,"hi":83,"v":82.5},{"lo":83,"hi":84,"v":83.5},{"lo":84,"hi":85,"v":84.5},{"lo":85,"hi":86,"v":85.5},{"lo":86,"hi":87,"v":86.5},{"lo":87,"hi":88,"v":87.5},{"lo":88,"hi":89,"v":88.5},{"lo":89,"hi":90,"v":89.5},{"lo":90,"hi":91,"v":90.5},{"lo":91,"hi":92,"v":91.5},{"lo":92,"hi":93,"v":92.5},{"lo":93,"hi":94,"v":93.5},{"lo":94,"hi":95,"v":94.5},{"lo":95,"hi":96,"v":95.5},{"lo":96,"hi":97,"v":96.5},{"lo":97,"hi":98,"v":97.5},{"lo":98,"hi":99,"v":98.5},{"lo":99,"hi":100,"v":99.5},{"lo":100,"hi":101,"v":100.5},{"lo":101,"hi":102,"v":101.5},{"lo":102,"hi":103,"v":102.5},{"lo":103,"hi":104,"v":103.5},{"lo":104,"hi":105,"v":104.5},{"lo":105,"hi":106,"v":105.5},{"lo":106,"hi":107,"v":106.5},{"lo":107,"hi":108,"v":107.5},{"lo":108,"hi":109,"v":108.5},{"lo":109,"hi":110,"v":109.5},{"lo":110,"hi":111,"v":110.5},{"lo":111,"hi":112,"v":111.5},{"lo":112,"hi":113,"v":112.5},{"lo":113,"hi":114,"v":113.5},{"lo":114,"hi":115,"v":114.5},{"lo":115,"hi":116,"v":115.5},{"lo":116,"hi":117,"v":116.5},{"lo":117,"hi":118,"v":117.5},{"lo":118,"hi":119,"v":118.5},{"lo":119,"hi":120,"v":119.5}]},
"hconcat":[
{"width":1237,"height":1197,"layer":[
{"data":{"name":"pa"},"mark":{"type":"line","order":false,"clip":true,"strokeWidth":0},"encoding":{"x":{"field":"f","type":"quantitative","scale":{"domain":[130.8,1046.4],"nice":false,"zero":false},"axis":{"orient":"bottom","values":[250,500,750,1000],"format":"d","title":"Frequency (Hz)","labelFontSize":54,"titleFontSize":70,"tickSize":-14,"tickWidth":2,"labelPadding":14,"zindex":1,"titleX":618,"titleY":139,"titleBaseline":"alphabetic"}},"y":{"field":"a","type":"quantitative","scale":{"domain":[90,170],"nice":false,"zero":false},"axis":{"orient":"left","values":[90,100,110,120,130,140,150,160,170],"format":"d","title":"Microphone location (angle)","labelFontSize":54,"titleFontSize":70,"tickSize":-14,"tickWidth":2,"labelPadding":8,"zindex":1,"titleX":-142,"titleY":598,"titleBaseline":"alphabetic"}},"fill":{"field":"v","type":"quantitative","legend":null,"scale":{"type":"linear","interpolate":"rgb","clamp":true,"domain":[79,79.9,80,84.4,85,93.6,95,100,105.6,106.4,115.6,116.4,120],"range":["#ffffff","#ffffff","#00007f","#0000ff","#0000ff","#00dbff","#14ffe6","#7aff7a","#eeff08","#ffec00","#ff1300","#f30000","#800000"]}}}},
{"data":{"values":[{"t":"a","f":164,"a":162}]},"mark":{"type":"text","font":"Liberation Serif","fontStyle":"italic","fontSize":150,"baseline":"alphabetic","align":"center","color":"black"},"encoding":{"text":{"field":"t"},"x":{"field":"f","type":"quantitative","scale":{"domain":[130.8,1046.4],"nice":false,"zero":false},"axis":{"orient":"top","values":[250,500,750,1000],"labels":false,"title":null,"tickSize":-14,"tickWidth":2,"zindex":1}},"y":{"field":"a","type":"quantitative","scale":{"domain":[90,170],"nice":false,"zero":false},"axis":{"orient":"right","values":[90,100,110,120,130,140,150,160,170],"labels":false,"title":null,"tickSize":-14,"tickWidth":2,"zindex":1}}}},
{"data":{"values":[{"t":")","f":212,"a":161.6}]},"mark":{"type":"text","font":"Liberation Serif","fontSize":170,"baseline":"alphabetic","align":"center","color":"black"},"encoding":{"text":{"field":"t"},"x":{"field":"f","type":"quantitative","scale":{"domain":[130.8,1046.4],"nice":false,"zero":false},"axis":null},"y":{"field":"a","type":"quantitative","scale":{"domain":[90,170],"nice":false,"zero":false},"axis":null}}},
{"data":{"values":[{"x0":130.8,"x1":1046.4,"y0":90,"y1":170}]},"mark":{"type":"rect","fillOpacity":0,"stroke":"black","strokeWidth":5},"encoding":{"x":{"field":"x0","type":"quantitative","scale":{"domain":[130.8,1046.4],"nice":false,"zero":false},"axis":null},"x2":{"field":"x1"},"y":{"field":"y0","type":"quantitative","scale":{"domain":[90,170],"nice":false,"zero":false},"axis":null},"y2":{"field":"y1"}}}
],"resolve":{"axis":{"x":"independent","y":"independent"}}},
{"width":170,"height":1197,"data":{"values":[{"s":0}]},"mark":{"type":"point","opacity":0},"encoding":{}},
{"width":1237,"height":1197,"layer":[
{"data":{"name":"pb"},"mark":{"type":"line","order":false,"clip":true,"strokeWidth":0},"encoding":{"x":{"field":"f","type":"quantitative","scale":{"domain":[130.8,1046.4],"nice":false,"zero":false},"axis":{"orient":"bottom","values":[250,500,750,1000],"format":"d","title":"Frequency (Hz)","labelFontSize":54,"titleFontSize":70,"tickSize":-14,"tickWidth":2,"labelPadding":14,"zindex":1,"titleX":618,"titleY":139,"titleBaseline":"alphabetic"}},"y":{"field":"a","type":"quantitative","scale":{"domain":[90,170],"nice":false,"zero":false},"axis":{"orient":"left","values":[90,100,110,120,130,140,150,160,170],"format":"d","title":"Microphone location (angle)","labelFontSize":54,"titleFontSize":70,"tickSize":-14,"tickWidth":2,"labelPadding":8,"zindex":1,"titleX":-142,"titleY":598,"titleBaseline":"alphabetic"}},"fill":{"field":"v","type":"quantitative","legend":null,"scale":{"type":"linear","interpolate":"rgb","clamp":true,"domain":[79,79.9,80,84.4,85,93.6,95,100,105.6,106.4,115.6,116.4,120],"range":["#ffffff","#ffffff","#00007f","#0000ff","#0000ff","#00dbff","#14ffe6","#7aff7a","#eeff08","#ffec00","#ff1300","#f30000","#800000"]}}}},
{"data":{"values":[{"t":"b","f":169,"a":162}]},"mark":{"type":"text","font":"Liberation Serif","fontStyle":"italic","fontSize":150,"baseline":"alphabetic","align":"center","color":"black"},"encoding":{"text":{"field":"t"},"x":{"field":"f","type":"quantitative","scale":{"domain":[130.8,1046.4],"nice":false,"zero":false},"axis":{"orient":"top","values":[250,500,750,1000],"labels":false,"title":null,"tickSize":-14,"tickWidth":2,"zindex":1}},"y":{"field":"a","type":"quantitative","scale":{"domain":[90,170],"nice":false,"zero":false},"axis":{"orient":"right","values":[90,100,110,120,130,140,150,160,170],"labels":false,"title":null,"tickSize":-14,"tickWidth":2,"zindex":1}}}},
{"data":{"values":[{"t":")","f":209,"a":161.6}]},"mark":{"type":"text","font":"Liberation Serif","fontSize":170,"baseline":"alphabetic","align":"center","color":"black"},"encoding":{"text":{"field":"t"},"x":{"field":"f","type":"quantitative","scale":{"domain":[130.8,1046.4],"nice":false,"zero":false},"axis":null},"y":{"field":"a","type":"quantitative","scale":{"domain":[90,170],"nice":false,"zero":false},"axis":null}}},
{"data":{"values":[{"x0":130.8,"x1":1046.4,"y0":90,"y1":170}]},"mark":{"type":"rect","fillOpacity":0,"stroke":"black","strokeWidth":5},"encoding":{"x":{"field":"x0","type":"quantitative","scale":{"domain":[130.8,1046.4],"nice":false,"zero":false},"axis":null},"x2":{"field":"x1"},"y":{"field":"y0","type":"quantitative","scale":{"domain":[90,170],"nice":false,"zero":false},"axis":null},"y2":{"field":"y1"}}}
],"resolve":{"axis":{"x":"independent","y":"independent"}}},
{"width":60,"height":1197,"layer":[
{"data":{"name":"bar"},"mark":{"type":"rect"},"encoding":{"y":{"field":"lo","type":"quantitative","scale":{"domain":[80,120],"nice":false,"zero":false},"axis":{"orient":"right","values":[80,85,90,95,100,105,110,115,120],"format":".2f","title":null,"labelFontSize":41,"tickSize":-12,"tickWidth":2,"labelPadding":25,"zindex":1}},"y2":{"field":"hi"},"fill":{"field":"v","type":"quantitative","legend":null,"scale":{"type":"linear","interpolate":"rgb","clamp":true,"domain":[79,79.9,80,84.4,85,93.6,95,100,105.6,106.4,115.6,116.4,120],"range":["#ffffff","#ffffff","#00007f","#0000ff","#0000ff","#00dbff","#14ffe6","#7aff7a","#eeff08","#ffec00","#ff1300","#f30000","#800000"]}}}},
{"data":{"values":[{"x0":0,"x1":1,"y0":80,"y1":120}]},"mark":{"type":"rect","fillOpacity":0,"stroke":"black","strokeWidth":5},"encoding":{"x":{"field":"x0","type":"quantitative","scale":{"domain":[0,1],"nice":false,"zero":false},"axis":null},"x2":{"field":"x1"},"y":{"field":"y0","type":"quantitative","scale":{"domain":[80,120],"nice":false,"zero":false},"axis":null},"y2":{"field":"y1"}}}
],"resolve":{"axis":{"y":"independent"}}}
]}
